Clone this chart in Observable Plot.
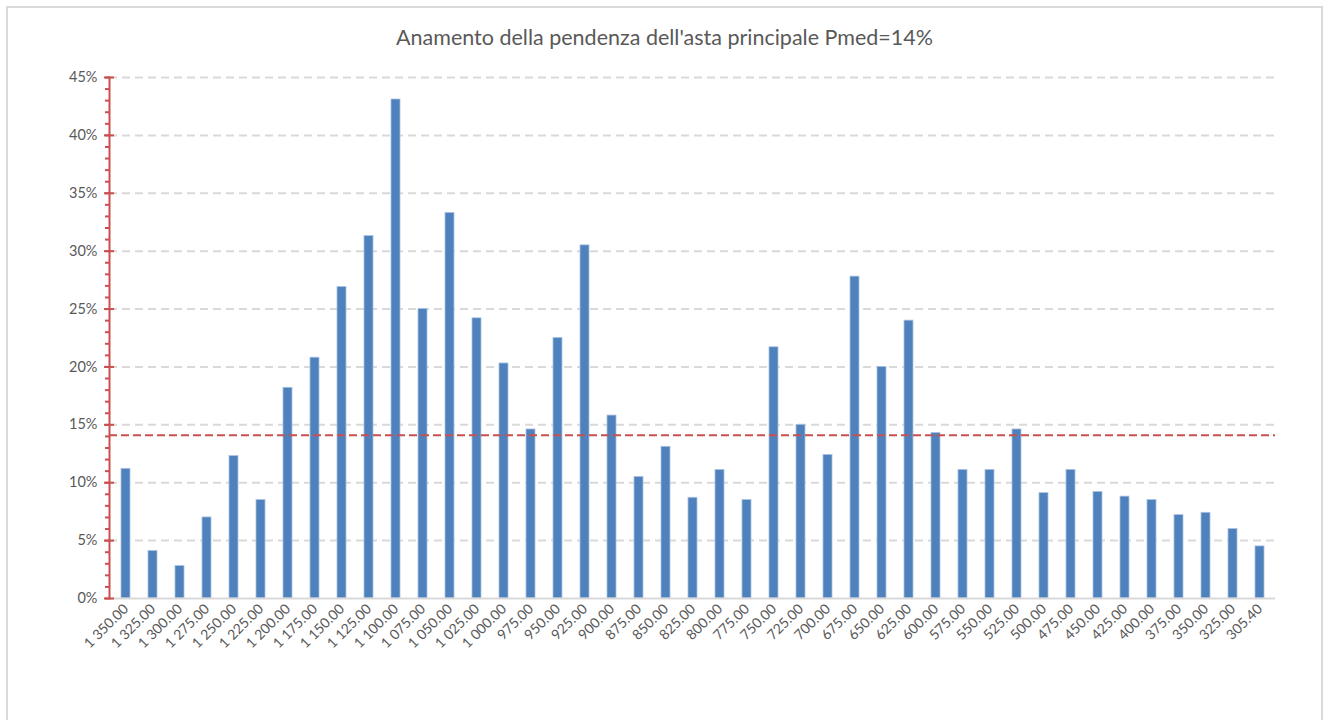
<!DOCTYPE html>
<html>
<head>
<meta charset="utf-8">
<script src="https://cdn.jsdelivr.net/npm/d3@7"></script>
<script src="https://cdn.jsdelivr.net/npm/@observablehq/plot@0.6"></script>
<style>
  html, body { margin: 0; padding: 0; background: #fff; }
  #wrap { position: relative; width: 1329px; height: 720px; overflow: hidden; font-family: Lato, "Open Sans", sans-serif; }
  #border { position: absolute; left: 6px; top: 6px; width: 1317px; height: 760px; border: 2px solid #d9d9d9; box-sizing: border-box; }
  #title { position: absolute; left: 0; width: 1329px; top: 24px; text-align: center; font-size: 21.5px; color: #595959; }
  #chart { position: absolute; left: 0; top: 0; }
</style>
</head>
<body>
<div id="wrap">
  <div id="border"></div>
  <div id="chart"></div>
  <div id="title">Anamento della pendenza dell'asta principale Pmed=14%</div>
</div>
<script>
const categories = ["1 350.00","1 325.00","1 300.00","1 275.00","1 250.00","1 225.00","1 200.00","1 175.00","1 150.00","1 125.00","1 100.00","1 075.00","1 050.00","1 025.00","1 000.00","975.00","950.00","925.00","900.00","875.00","850.00","825.00","800.00","775.00","750.00","725.00","700.00","675.00","650.00","625.00","600.00","575.00","550.00","525.00","500.00","475.00","450.00","425.00","400.00","375.00","350.00","325.00","305.40"];
const slopes = [0.112,0.041,0.028,0.070,0.123,0.085,0.182,0.208,0.269,0.313,0.431,0.250,0.333,0.242,0.203,0.146,0.225,0.305,0.158,0.105,0.131,0.087,0.111,0.085,0.217,0.150,0.124,0.278,0.200,0.240,0.143,0.111,0.111,0.146,0.091,0.111,0.092,0.088,0.085,0.072,0.074,0.060,0.045];
const meanSlope = 0.141;
const majorTicks = [0,0.05,0.10,0.15,0.20,0.25,0.30,0.35,0.40,0.45];
const minorTicks = d3.range(0, 46).map(i => i / 100);

const data = categories.map((c, i) => ({cat: c, value: slopes[i]}));
const axisRed = "#c9504f";
const fontFam = "Lato, 'Open Sans', sans-serif";

const chart = Plot.plot({
  width: 1329,
  height: 720,
  marginLeft: 109,
  marginRight: 54,
  marginTop: 77,
  marginBottom: 122,
  style: {fontFamily: fontFam, fontSize: "13px", color: "#595959", background: "transparent"},
  x: {domain: categories, paddingInner: 0.67, paddingOuter: 0.335, label: null},
  y: {domain: [0, 0.45], label: null},
  marks: [
    Plot.gridY(majorTicks.filter(d => d > 0), {stroke: "#d9d9d9", strokeOpacity: 1, strokeWidth: 2, strokeDasharray: "8,5"}),
    Plot.barY(data, {x: "cat", y: "value", fill: "#4f81bd", stroke: "#a9c2e2", strokeWidth: 0.8}),
    Plot.ruleY([0], {stroke: "#d9d9d9", strokeWidth: 2}),
    Plot.ruleY([meanSlope], {stroke: axisRed, strokeWidth: 2, strokeDasharray: "8,4"}),
    Plot.axisY(minorTicks, {tickSize: 4, text: null, stroke: axisRed, strokeWidth: 2}),
    Plot.axisY(majorTicks, {tickSize: 5, tickFormat: d3.format(".0%"), stroke: axisRed, strokeWidth: 2, fill: "#595959", fontSize: 14.5, tickPadding: 7}),
    Plot.axisY(majorTicks, {tickSize: -5, text: null, stroke: axisRed, strokeWidth: 2}),
    Plot.frame({anchor: "left", stroke: axisRed, strokeWidth: 2}),
    Plot.axisX({tickSize: 0, tickRotate: -45, tickPadding: 8, fill: "#595959", fontSize: 14, label: null})
  ]
});
document.getElementById("chart").appendChild(chart);
</script>
</body>
</html>
